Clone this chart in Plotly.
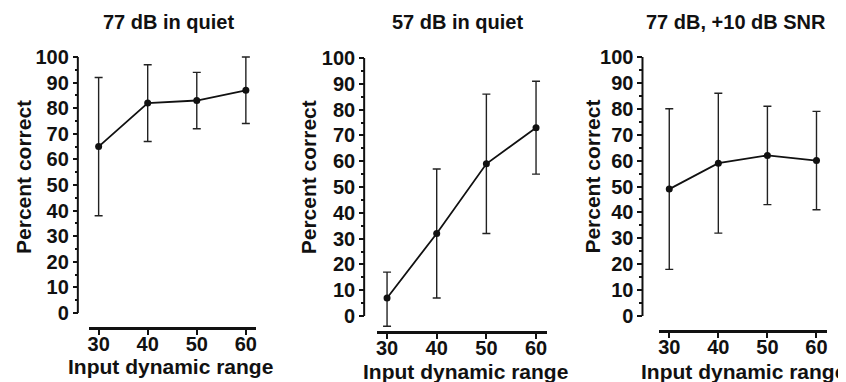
import plotly.graph_objects as go

# ---- data ----
x_vals = [30, 40, 50, 60]
panel_titles = ["77 dB in quiet", "57 dB in quiet", "77 dB, +10 dB SNR"]
mean_q77 = [65, 82, 83, 87]
upper_q77 = [92, 97, 94, 100]
lower_q77 = [38, 67, 72, 74]
mean_q57 = [7, 32, 59, 73]
upper_q57 = [17, 57, 86, 91]
lower_q57 = [-4, 7, 32, 55]
mean_snr = [49, 59, 62, 60]
upper_snr = [80, 86, 81, 79]
lower_snr = [18, 32, 43, 41]
y_ticks = list(range(0, 101, 10))
y_minor = list(range(5, 100, 10))
x_label = "Input dynamic range"
y_label = "Percent correct"

series = [(mean_q77, upper_q77, lower_q77),
          (mean_q57, upper_q57, lower_q57),
          (mean_snr, upper_snr, lower_snr)]

# the page body adds an 8px margin, so the figure is made 8px smaller
OFF = 8
WIN_W, WIN_H = 846, 382
W, H = WIN_W - OFF, WIN_H - OFF
FONT = "Liberation Sans"
INK = "#111111"


def px(xw):
    return (xw - OFF) / W


def py(yw):
    return 1 - (yw - OFF) / H


# pixel layout of each panel (window coordinates)
panels = [
    dict(x0=88, x1=256, yax=77, xay=327, y0=313, y100=57, title_x=168, ytitle_x=22, xtitle_y=366, xtitle_x=170),
    dict(x0=377, x1=547, yax=364, xay=331, y0=316, y100=58, title_x=458, ytitle_x=308, xtitle_y=371, xtitle_x=466),
    dict(x0=660, x1=828, yax=643, xay=330, y0=316, y100=57, title_x=737, ytitle_x=592, xtitle_y=371, xtitle_x=744),
]

fig = go.Figure()
annotations = []
shapes = []
layout = {}

for i, (p, (m, up, lo), ttl) in enumerate(zip(panels, series, panel_titles)):
    n = "" if i == 0 else str(i + 1)
    ppu = (p["y0"] - p["y100"]) / 100.0
    ybot = -(p["xay"] - p["y0"]) / ppu
    top_px = p["y100"] - 3
    ytop = 100 + 3 / ppu

    fig.add_trace(go.Scatter(
        x=x_vals, y=m, mode="lines+markers",
        xaxis="x" + n, yaxis="y" + n,
        line=dict(color=INK, width=1.8),
        marker=dict(color=INK, size=7),
        error_y=dict(type="data", symmetric=False,
                     array=[u - v for u, v in zip(up, m)],
                     arrayminus=[v - l for v, l in zip(m, lo)],
                     color="#222222", thickness=1.4, width=4),
        showlegend=False, hoverinfo="x+y",
    ))

    layout["xaxis" + n] = dict(
        domain=[px(p["x0"]), px(p["x1"])], anchor="y" + n,
        range=[28, 62.15], tickvals=x_vals,
        showline=True, linewidth=2.5, linecolor=INK,
        ticks="outside", ticklen=5, tickwidth=2, tickcolor=INK,
        ticklabelstandoff=-8,
        showgrid=False, zeroline=False,
        tickfont=dict(family=FONT, size=20, color=INK, weight="bold"),
    )
    layout["yaxis" + n] = dict(
        domain=[py(p["xay"]), py(top_px)], anchor="free",
        position=px(p["yax"]),
        range=[ybot, ytop], tickvals=y_ticks,
        showline=False, ticks="outside", ticklen=5, tickwidth=2, tickcolor=INK,
        minor=dict(tickvals=y_minor, ticks="outside", ticklen=3, tickwidth=1.5, tickcolor=INK),
        showgrid=False, zeroline=False, automargin=False,
        tickfont=dict(family=FONT, size=20, color=INK, weight="bold"),
    )
    shapes.append(dict(type="line", xref="paper", yref="y" + n,
                       x0=px(p["yax"]), x1=px(p["yax"]), y0=0, y1=100,
                       line=dict(color=INK, width=2)))
    annotations.append(dict(text="<b>%s</b>" % ttl, xref="paper", yref="paper",
                            x=px(p["title_x"]), y=py(22), showarrow=False,
                            xanchor="center", yanchor="middle",
                            font=dict(family=FONT, size=20, color=INK)))
    annotations.append(dict(text="<b>%s</b>" % y_label, xref="paper", yref="paper",
                            x=px(p["ytitle_x"]), y=py(177), showarrow=False,
                            textangle=-90, xanchor="center", yanchor="middle",
                            font=dict(family=FONT, size=21, color=INK)))
    annotations.append(dict(text="<b>%s</b>" % x_label, xref="paper", yref="paper",
                            x=px(p["xtitle_x"]), y=py(p["xtitle_y"]), showarrow=False,
                            xanchor="center", yanchor="middle",
                            font=dict(family=FONT, size=21, color=INK)))

fig.update_layout(
    width=W, height=H,
    margin=dict(l=0, r=0, t=0, b=0),
    paper_bgcolor="white", plot_bgcolor="white",
    annotations=annotations, shapes=shapes,
    **layout,
)

fig.write_html("out.html")
